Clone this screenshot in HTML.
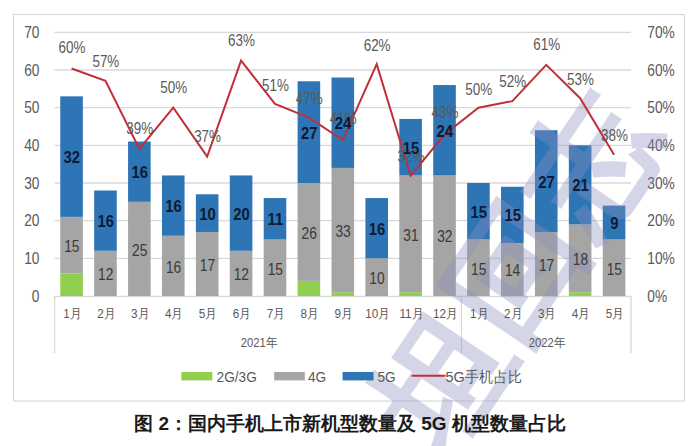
<!DOCTYPE html>
<html><head><meta charset="utf-8"><style>
html,body{margin:0;padding:0;background:#fff;}
body{width:700px;height:446px;overflow:hidden;}
svg{display:block;}
text{font-family:"Liberation Sans",sans-serif;}
.ax{font-size:16px;fill:#595959;}
.gl{font-size:16px;fill:#3a3a3a;}
.bl{font-size:16.5px;font-weight:bold;fill:#0d1a33;}
.pl{font-size:16px;fill:#595959;}
.ml{font-size:13px;fill:#595959;}
.yl{font-size:12.5px;fill:#595959;}
.lg{font-size:15.5px;fill:#595959;}
.tt{font-size:19px;font-weight:900;fill:#1a1a1a;}
.wm{font-size:130px;font-weight:bold;fill:#8a90c0;stroke:#8a90c0;stroke-width:1px;letter-spacing:2px;}
</style></head><body>
<svg width="700" height="446" viewBox="0 0 700 446">
<rect x="13.5" y="14.5" width="671" height="386.5" fill="none" stroke="#d9d9d9" stroke-width="1.2"/>
<line x1="54.6" y1="258.33" x2="631.0" y2="258.33" stroke="#d9d9d9" stroke-width="1.3"/>
<line x1="54.6" y1="220.66" x2="631.0" y2="220.66" stroke="#d9d9d9" stroke-width="1.3"/>
<line x1="54.6" y1="182.99" x2="631.0" y2="182.99" stroke="#d9d9d9" stroke-width="1.3"/>
<line x1="54.6" y1="145.32" x2="631.0" y2="145.32" stroke="#d9d9d9" stroke-width="1.3"/>
<line x1="54.6" y1="107.65" x2="631.0" y2="107.65" stroke="#d9d9d9" stroke-width="1.3"/>
<line x1="54.6" y1="69.98" x2="631.0" y2="69.98" stroke="#d9d9d9" stroke-width="1.3"/>
<line x1="54.6" y1="32.31" x2="631.0" y2="32.31" stroke="#d9d9d9" stroke-width="1.3"/>
<line x1="54.6" y1="296.5" x2="631.0" y2="296.5" stroke="#d9d9d9" stroke-width="1.4"/>
<line x1="54.60" y1="296.0" x2="54.60" y2="353" stroke="#d9d9d9" stroke-width="1.3"/>
<line x1="461.47" y1="296.0" x2="461.47" y2="353" stroke="#d9d9d9" stroke-width="1.3"/>
<line x1="631.00" y1="296.0" x2="631.00" y2="353" stroke="#d9d9d9" stroke-width="1.3"/>
<text transform="translate(39.50,301.76) scale(0.86,1)" text-anchor="end" class="ax">0</text>
<text transform="translate(647.30,301.76) scale(0.86,1)" text-anchor="start" class="ax">0%</text>
<text transform="translate(39.50,264.09) scale(0.86,1)" text-anchor="end" class="ax">10</text>
<text transform="translate(647.30,264.09) scale(0.86,1)" text-anchor="start" class="ax">10%</text>
<text transform="translate(39.50,226.42) scale(0.86,1)" text-anchor="end" class="ax">20</text>
<text transform="translate(647.30,226.42) scale(0.86,1)" text-anchor="start" class="ax">20%</text>
<text transform="translate(39.50,188.75) scale(0.86,1)" text-anchor="end" class="ax">30</text>
<text transform="translate(647.30,188.75) scale(0.86,1)" text-anchor="start" class="ax">30%</text>
<text transform="translate(39.50,151.08) scale(0.86,1)" text-anchor="end" class="ax">40</text>
<text transform="translate(647.30,151.08) scale(0.86,1)" text-anchor="start" class="ax">40%</text>
<text transform="translate(39.50,113.41) scale(0.86,1)" text-anchor="end" class="ax">50</text>
<text transform="translate(647.30,113.41) scale(0.86,1)" text-anchor="start" class="ax">50%</text>
<text transform="translate(39.50,75.74) scale(0.86,1)" text-anchor="end" class="ax">60</text>
<text transform="translate(647.30,75.74) scale(0.86,1)" text-anchor="start" class="ax">60%</text>
<text transform="translate(39.50,38.07) scale(0.86,1)" text-anchor="end" class="ax">70</text>
<text transform="translate(647.30,38.07) scale(0.86,1)" text-anchor="start" class="ax">70%</text>
<rect x="60.25" y="273.40" width="22.6" height="22.60" fill="#90cf50"/>
<rect x="60.25" y="216.89" width="22.6" height="56.50" fill="#a5a5a5"/>
<rect x="60.25" y="96.35" width="22.6" height="120.54" fill="#2e75b6"/>
<rect x="94.16" y="250.80" width="22.6" height="45.20" fill="#a5a5a5"/>
<rect x="94.16" y="190.52" width="22.6" height="60.27" fill="#2e75b6"/>
<rect x="128.06" y="201.82" width="22.6" height="94.17" fill="#a5a5a5"/>
<rect x="128.06" y="141.55" width="22.6" height="60.27" fill="#2e75b6"/>
<rect x="161.97" y="235.73" width="22.6" height="60.27" fill="#a5a5a5"/>
<rect x="161.97" y="175.46" width="22.6" height="60.27" fill="#2e75b6"/>
<rect x="195.88" y="231.96" width="22.6" height="64.04" fill="#a5a5a5"/>
<rect x="195.88" y="194.29" width="22.6" height="37.67" fill="#2e75b6"/>
<rect x="229.78" y="250.80" width="22.6" height="45.20" fill="#a5a5a5"/>
<rect x="229.78" y="175.46" width="22.6" height="75.34" fill="#2e75b6"/>
<rect x="263.69" y="239.50" width="22.6" height="56.50" fill="#a5a5a5"/>
<rect x="263.69" y="198.06" width="22.6" height="41.44" fill="#2e75b6"/>
<rect x="297.59" y="280.93" width="22.6" height="15.07" fill="#90cf50"/>
<rect x="297.59" y="182.99" width="22.6" height="97.94" fill="#a5a5a5"/>
<rect x="297.59" y="81.28" width="22.6" height="101.71" fill="#2e75b6"/>
<rect x="331.50" y="292.23" width="22.6" height="3.77" fill="#90cf50"/>
<rect x="331.50" y="167.92" width="22.6" height="124.31" fill="#a5a5a5"/>
<rect x="331.50" y="77.51" width="22.6" height="90.41" fill="#2e75b6"/>
<rect x="365.41" y="258.33" width="22.6" height="37.67" fill="#a5a5a5"/>
<rect x="365.41" y="198.06" width="22.6" height="60.27" fill="#2e75b6"/>
<rect x="399.31" y="292.23" width="22.6" height="3.77" fill="#90cf50"/>
<rect x="399.31" y="175.46" width="22.6" height="116.78" fill="#a5a5a5"/>
<rect x="399.31" y="118.95" width="22.6" height="56.50" fill="#2e75b6"/>
<rect x="433.22" y="175.46" width="22.6" height="120.54" fill="#a5a5a5"/>
<rect x="433.22" y="85.05" width="22.6" height="90.41" fill="#2e75b6"/>
<rect x="467.12" y="239.50" width="22.6" height="56.50" fill="#a5a5a5"/>
<rect x="467.12" y="182.99" width="22.6" height="56.50" fill="#2e75b6"/>
<rect x="501.03" y="243.26" width="22.6" height="52.74" fill="#a5a5a5"/>
<rect x="501.03" y="186.76" width="22.6" height="56.50" fill="#2e75b6"/>
<rect x="534.94" y="231.96" width="22.6" height="64.04" fill="#a5a5a5"/>
<rect x="534.94" y="130.25" width="22.6" height="101.71" fill="#2e75b6"/>
<rect x="568.84" y="292.23" width="22.6" height="3.77" fill="#90cf50"/>
<rect x="568.84" y="224.43" width="22.6" height="67.81" fill="#a5a5a5"/>
<rect x="568.84" y="145.32" width="22.6" height="79.11" fill="#2e75b6"/>
<rect x="602.75" y="239.50" width="22.6" height="56.50" fill="#a5a5a5"/>
<rect x="602.75" y="205.59" width="22.6" height="33.90" fill="#2e75b6"/>
<g opacity="0.36"><g transform="translate(514,270) rotate(-56)"><text x="0" y="0" text-anchor="middle" class="wm" dy="0.36em">坦回志</text></g></g>
<text transform="translate(71.85,251.91) scale(0.86,1)" text-anchor="middle" class="gl">15</text>
<text transform="translate(105.76,280.16) scale(0.86,1)" text-anchor="middle" class="gl">12</text>
<text transform="translate(139.66,255.67) scale(0.86,1)" text-anchor="middle" class="gl">25</text>
<text transform="translate(173.57,272.62) scale(0.86,1)" text-anchor="middle" class="gl">16</text>
<text transform="translate(207.48,270.74) scale(0.86,1)" text-anchor="middle" class="gl">17</text>
<text transform="translate(241.38,280.16) scale(0.86,1)" text-anchor="middle" class="gl">12</text>
<text transform="translate(275.29,274.51) scale(0.86,1)" text-anchor="middle" class="gl">15</text>
<text transform="translate(309.19,238.72) scale(0.86,1)" text-anchor="middle" class="gl">26</text>
<text transform="translate(343.10,236.84) scale(0.86,1)" text-anchor="middle" class="gl">33</text>
<text transform="translate(377.01,283.93) scale(0.86,1)" text-anchor="middle" class="gl">10</text>
<text transform="translate(410.91,240.60) scale(0.86,1)" text-anchor="middle" class="gl">31</text>
<text transform="translate(444.82,242.49) scale(0.86,1)" text-anchor="middle" class="gl">32</text>
<text transform="translate(478.72,274.51) scale(0.86,1)" text-anchor="middle" class="gl">15</text>
<text transform="translate(512.63,276.39) scale(0.86,1)" text-anchor="middle" class="gl">14</text>
<text transform="translate(546.54,270.74) scale(0.86,1)" text-anchor="middle" class="gl">17</text>
<text transform="translate(580.44,265.09) scale(0.86,1)" text-anchor="middle" class="gl">18</text>
<text transform="translate(614.35,274.51) scale(0.86,1)" text-anchor="middle" class="gl">15</text>
<polyline points="71.55,68.56 105.46,80.74 139.36,149.00 173.27,107.65 207.18,156.48 241.08,60.56 274.99,103.88 308.89,117.56 342.80,140.12 376.71,64.18 410.61,175.78 444.52,134.56 478.42,107.65 512.33,101.16 546.24,64.84 580.14,98.23 614.05,154.74" fill="none" stroke="#c22f3b" stroke-width="2" stroke-linejoin="miter"/>
<text transform="translate(71.95,53.34) scale(0.84,1)" text-anchor="middle" class="pl">60%</text>
<text transform="translate(105.86,66.64) scale(0.84,1)" text-anchor="middle" class="pl">57%</text>
<text transform="translate(139.76,134.05) scale(0.84,1)" text-anchor="middle" class="pl">39%</text>
<text transform="translate(173.67,93.21) scale(0.84,1)" text-anchor="middle" class="pl">50%</text>
<text transform="translate(207.58,142.48) scale(0.84,1)" text-anchor="middle" class="pl">37%</text>
<text transform="translate(241.48,46.14) scale(0.84,1)" text-anchor="middle" class="pl">63%</text>
<text transform="translate(275.39,90.74) scale(0.84,1)" text-anchor="middle" class="pl">51%</text>
<text transform="translate(309.29,103.81) scale(0.84,1)" text-anchor="middle" class="pl">47%</text>
<text transform="translate(343.20,124.31) scale(0.84,1)" text-anchor="middle" class="pl">41%</text>
<text transform="translate(377.11,50.51) scale(0.84,1)" text-anchor="middle" class="pl">62%</text>
<text transform="translate(411.01,161.62) scale(0.84,1)" text-anchor="middle" class="pl">32%</text>
<text transform="translate(444.92,117.78) scale(0.84,1)" text-anchor="middle" class="pl">43%</text>
<text transform="translate(478.82,94.51) scale(0.84,1)" text-anchor="middle" class="pl">50%</text>
<text transform="translate(512.73,87.28) scale(0.84,1)" text-anchor="middle" class="pl">52%</text>
<text transform="translate(546.64,50.47) scale(0.84,1)" text-anchor="middle" class="pl">61%</text>
<text transform="translate(580.54,84.81) scale(0.84,1)" text-anchor="middle" class="pl">53%</text>
<text transform="translate(614.45,140.51) scale(0.84,1)" text-anchor="middle" class="pl">38%</text>
<text transform="translate(71.85,163.06) scale(0.9,1)" text-anchor="middle" class="bl">32</text>
<text transform="translate(105.76,227.10) scale(0.9,1)" text-anchor="middle" class="bl">16</text>
<text transform="translate(139.66,178.13) scale(0.9,1)" text-anchor="middle" class="bl">16</text>
<text transform="translate(173.57,212.03) scale(0.9,1)" text-anchor="middle" class="bl">16</text>
<text transform="translate(207.48,219.57) scale(0.9,1)" text-anchor="middle" class="bl">10</text>
<text transform="translate(241.38,219.57) scale(0.9,1)" text-anchor="middle" class="bl">20</text>
<text transform="translate(275.29,225.22) scale(0.9,1)" text-anchor="middle" class="bl">11</text>
<text transform="translate(309.19,138.58) scale(0.9,1)" text-anchor="middle" class="bl">27</text>
<text transform="translate(343.10,129.16) scale(0.9,1)" text-anchor="middle" class="bl">24</text>
<text transform="translate(377.01,234.63) scale(0.9,1)" text-anchor="middle" class="bl">16</text>
<text transform="translate(410.91,153.64) scale(0.9,1)" text-anchor="middle" class="bl">15</text>
<text transform="translate(444.82,136.69) scale(0.9,1)" text-anchor="middle" class="bl">24</text>
<text transform="translate(478.72,217.68) scale(0.9,1)" text-anchor="middle" class="bl">15</text>
<text transform="translate(512.63,221.45) scale(0.9,1)" text-anchor="middle" class="bl">15</text>
<text transform="translate(546.54,187.55) scale(0.9,1)" text-anchor="middle" class="bl">27</text>
<text transform="translate(580.44,191.31) scale(0.9,1)" text-anchor="middle" class="bl">21</text>
<text transform="translate(614.35,228.98) scale(0.9,1)" text-anchor="middle" class="bl">9</text>
<text transform="translate(72.15,318.34) scale(0.9,1)" text-anchor="middle" class="ml">1月</text>
<text transform="translate(106.06,318.34) scale(0.9,1)" text-anchor="middle" class="ml">2月</text>
<text transform="translate(139.96,318.34) scale(0.9,1)" text-anchor="middle" class="ml">3月</text>
<text transform="translate(173.87,318.34) scale(0.9,1)" text-anchor="middle" class="ml">4月</text>
<text transform="translate(207.78,318.34) scale(0.9,1)" text-anchor="middle" class="ml">5月</text>
<text transform="translate(241.68,318.34) scale(0.9,1)" text-anchor="middle" class="ml">6月</text>
<text transform="translate(275.59,318.34) scale(0.9,1)" text-anchor="middle" class="ml">7月</text>
<text transform="translate(309.49,318.34) scale(0.9,1)" text-anchor="middle" class="ml">8月</text>
<text transform="translate(343.40,318.34) scale(0.9,1)" text-anchor="middle" class="ml">9月</text>
<text transform="translate(377.31,318.34) scale(0.9,1)" text-anchor="middle" class="ml">10月</text>
<text transform="translate(411.21,318.34) scale(0.9,1)" text-anchor="middle" class="ml">11月</text>
<text transform="translate(445.12,318.34) scale(0.9,1)" text-anchor="middle" class="ml">12月</text>
<text transform="translate(479.02,318.34) scale(0.9,1)" text-anchor="middle" class="ml">1月</text>
<text transform="translate(512.93,318.34) scale(0.9,1)" text-anchor="middle" class="ml">2月</text>
<text transform="translate(546.84,318.34) scale(0.9,1)" text-anchor="middle" class="ml">3月</text>
<text transform="translate(580.74,318.34) scale(0.9,1)" text-anchor="middle" class="ml">4月</text>
<text transform="translate(614.65,318.34) scale(0.9,1)" text-anchor="middle" class="ml">5月</text>
<text transform="translate(258.84,347.35) scale(0.9,1)" text-anchor="middle" class="yl">2021年</text>
<text transform="translate(547.04,347.35) scale(0.9,1)" text-anchor="middle" class="yl">2022年</text>
<rect x="181.3" y="372" width="31" height="8.4" fill="#90cf50"/>
<text transform="translate(216.60,381.78) scale(0.88,1)" text-anchor="start" class="lg">2G/3G</text>
<rect x="274.2" y="372" width="30.6" height="8.4" fill="#a5a5a5"/>
<text transform="translate(308.00,381.78) scale(0.88,1)" text-anchor="start" class="lg">4G</text>
<rect x="342.6" y="372" width="30.9" height="8.4" fill="#2e75b6"/>
<text transform="translate(377.40,381.78) scale(0.88,1)" text-anchor="start" class="lg">5G</text>
<line x1="411.7" y1="375.8" x2="445.6" y2="375.8" stroke="#c22f3b" stroke-width="2"/>
<text transform="translate(445.60,381.78) scale(0.93,1)" text-anchor="start" class="lg">5G手机占比</text>
<text x="350" y="430" text-anchor="middle" class="tt">图 2：国内手机上市新机型数量及 5G 机型数量占比</text>
</svg>
</body></html>
